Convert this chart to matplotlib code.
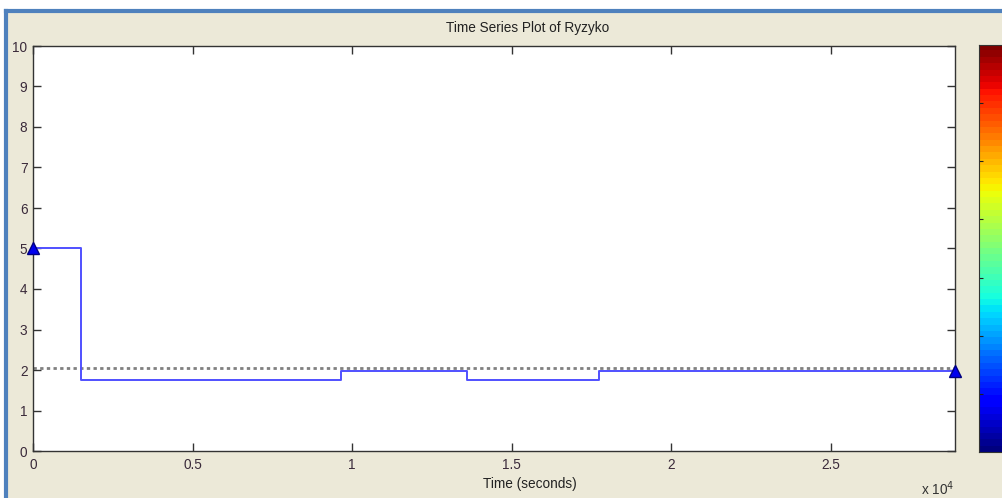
import numpy as np
import matplotlib.pyplot as plt

plt.rcParams['font.family'] = ['Liberation Sans', 'DejaVu Sans']

# step series (time in seconds, value of Ryzyko)
times = [0, 1500, 9650, 13600, 17750, 28900]
values = [5.0, 1.75, 1.97, 1.75, 1.97, 1.97]
mean_value = 2.05
x_ticks = [0, 5000, 10000, 15000, 20000, 25000]
x_tick_labels = ['0', '0.5', '1', '1.5', '2', '2.5']
y_ticks = list(range(0, 11))

W, H = 1003, 498
bg = '#ECE9D8'
fig = plt.figure(figsize=(W / 100, H / 100), dpi=100, facecolor='white')

# window frame: beige panel with blue border on top and left
panel = fig.add_axes([6 / W, 0, 1 - 6 / W, (H - 11) / H])
panel.set_facecolor(bg)
panel.set_xticks([])
panel.set_yticks([])
for s in panel.spines.values():
    s.set_visible(False)
for side in ['top', 'left']:
    panel.spines[side].set_visible(True)
    panel.spines[side].set_color('#4F81BD')
    panel.spines[side].set_linewidth(3)

ax = fig.add_axes([33 / W, (H - 451) / H, (955 - 33) / W, (451 - 46) / H])
ax.set_facecolor('white')
ax.plot(times, values, drawstyle='steps-post', color='#5050ff', lw=1.4, zorder=3)
ax.axhline(mean_value, color='#808080', lw=2, ls=(0, (1.2, 1.2)), zorder=2)
ax.plot([times[0], times[-1]], [values[0], values[-1]], ls='none', marker='^',
        color='#0000ee', markeredgecolor='#000080', markersize=9, clip_on=False, zorder=4)

ax.set_xlim(0, 28900)
ax.set_ylim(0, 10)
ax.set_xticks(x_ticks)
ax.set_xticklabels(x_tick_labels)
ax.set_yticks(y_ticks)
ax.tick_params(direction='in', length=6, width=1, colors='#333333', labelcolor='#3a2a3a',
               labelsize=9.8, top=True, right=True)
ax.tick_params(axis='x', pad=5)
ax.tick_params(axis='y', pad=4)
for s in ax.spines.values():
    s.set_color('#333333')
    s.set_linewidth(1)

fig.text(528 / W, 1 - 28 / H, 'Time Series Plot of Ryzyko', fontsize=9.8, color='#222222',
         ha='center', va='center')
fig.text(530 / W, 1 - 484 / H, 'Time (seconds)', fontsize=9.8, color='#222222',
         ha='center', va='center')
fig.text(921 / W, 1 - 489 / H, r'x 10$^{4}$', fontsize=9.8, color='#333333', va='center')

# colorbar strip on the right (cut by the image edge)
cax = fig.add_axes([979 / W, (H - 452) / H, 30 / W, (452 - 45) / H])
grad = np.linspace(0, 1, 64).reshape(-1, 1)
cax.imshow(grad, aspect='auto', cmap='jet', origin='lower', extent=[0, 1, 0, 1])
cax.set_xticks([])
cax.set_yticks(np.linspace(0, 1, 8)[1:-1])
cax.set_yticklabels([])
cax.tick_params(axis='y', direction='in', length=3, colors='#222222', left=True, right=False)
for s in cax.spines.values():
    s.set_color('#333333')

fig.savefig('out.png', dpi=100, facecolor=fig.get_facecolor())
